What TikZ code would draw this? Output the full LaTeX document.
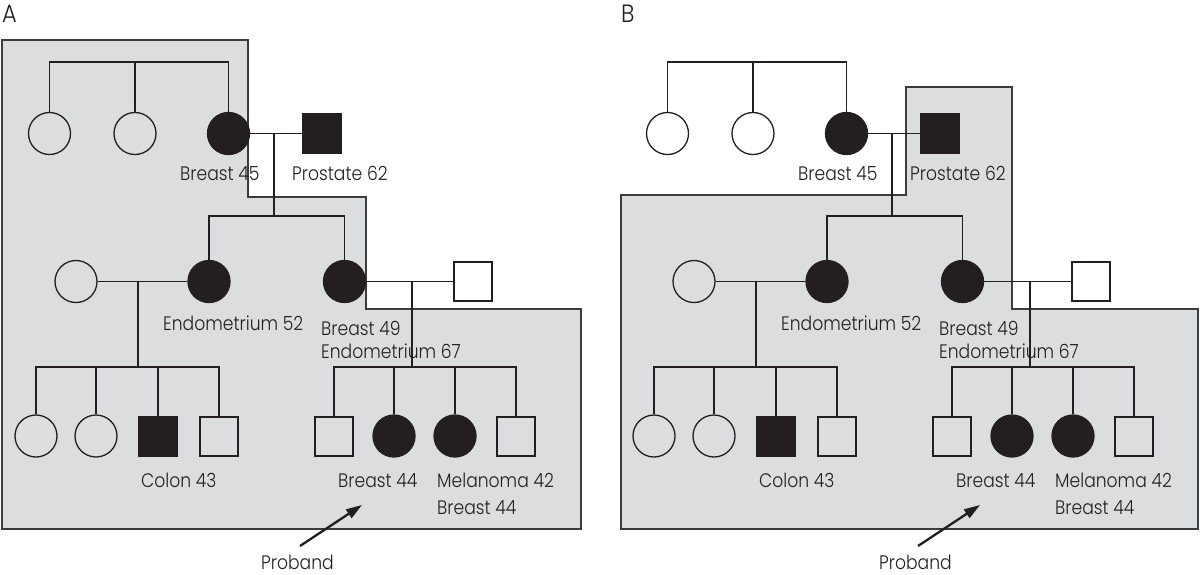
\documentclass[tikz,border=0pt]{standalone}
\usepackage{fontspec}
\setmainfont{Poppins}[UprightFont=* Light, FakeStretch=0.88]
\newfontfamily\headfont{Poppins}[UprightFont=* Light, FakeStretch=0.9]
\usetikzlibrary{arrows.meta}
\definecolor{shade}{RGB}{220,221,223}
\definecolor{edge}{RGB}{60,60,60}
\definecolor{ink}{RGB}{35,31,32}
\tikzset{
  fem/.style={circle, draw=ink, line width=1.3pt, minimum size=42pt, inner sep=0pt},
  femA/.style={fem, fill=ink},
  mal/.style={rectangle, draw=ink, line width=1.3pt, minimum width=38pt, minimum height=39pt, inner sep=0pt},
  malA/.style={mal, fill=ink},
  link/.style={draw=ink, line width=1.3pt},
  lbl/.style={anchor=base west, inner sep=0pt, font=\fontsize{19.5}{23}\selectfont, text=ink},
  panellbl/.style={anchor=base west, inner sep=0pt, font=\headfont\fontsize{25}{28}\selectfont, text=ink},
  region/.style={fill=shade, draw=edge, line width=1.5pt},
  pointer/.style={draw=ink, line width=2.3pt, -{Triangle[length=16pt,width=10pt]}},
}
\newcommand\pedtree{%
  % generation I
  \node[fem]  (c1) at (49.5,133.5) {};
  \node[fem]  (c2) at (135,133.5) {};
  \node[femA] (c3) at (228.5,133.5) {};
  \node[malA] (p1) at (322,133.5) {};
  \coordinate (s1) at (135,62);
  \draw[link] (c1.north) -- (c1.north |- s1) -- (c3.north |- s1) -- (c3.north);
  \draw[link] (c2.north) -- (s1);
  \draw[link] (c3.east) -- (p1.west);
  \coordinate (m1) at (274,133.5);
  \coordinate (s2) at (274,216);
  \draw[link] (m1) -- (s2);
  % generation II
  \node[fem]  (d1) at (76,281.5) {};
  \node[femA] (d2) at (209,281.5) {};
  \node[femA] (d3) at (344.5,281.5) {};
  \node[mal]  (d4) at (473,281.5) {};
  \draw[link] (d2.north) -- (d2.north |- s2) -- (d3.north |- s2) -- (d3.north);
  \draw[link] (d1.east) -- (d2.west);
  \draw[link] (d3.east) -- (d4.west);
  \coordinate (m2) at (138,281.5);
  \coordinate (s3) at (138,367);
  \coordinate (m3) at (412,281.5);
  \coordinate (s4) at (412,367);
  \draw[link] (m2) -- (s3);
  \draw[link] (m3) -- (s4);
  % generation III
  \node[fem]  (e1) at (36,436) {};
  \node[fem]  (e2) at (96,436) {};
  \node[malA] (e3) at (158,436.5) {};
  \node[mal]  (e4) at (219,436.5) {};
  \node[mal]  (e5) at (334,436.5) {};
  \node[femA] (e6) at (394,436) {};
  \node[femA] (e7) at (455,436) {};
  \node[mal]  (e8) at (516,436.5) {};
  \draw[link] (e1.north) -- (e1.north |- s3) -- (e4.north |- s3) -- (e4.north);
  \draw[link] (e2.north) -- (e2.north |- s3);
  \draw[link] (e3.north) -- (e3.north |- s3);
  \draw[link] (e5.north) -- (e5.north |- s4) -- (e8.north |- s4) -- (e8.north);
  \draw[link] (e6.north) -- (e6.north |- s4);
  \draw[link] (e7.north) -- (e7.north |- s4);
  % labels
  \node[lbl] (t1) at (180,180) {Breast 45};
  \node[lbl] (t2) at (292,180) {Prostate 62};
  \node[lbl] (t3) at (163,330) {Endometrium 52};
  \node[lbl] (t4) at (321,335) {Breast 49};
  \node[lbl] (t5) at (321,358) {Endometrium 67};
  \node[lbl] (t6) at (141,487) {Colon 43};
  \node[lbl] (t7) at (338,487) {Breast 44};
  \node[lbl] (t8) at (437,487) {Melanoma 42};
  \node[lbl] (t9) at (437,514) {Breast 44};
  \node[lbl] (t10) at (261,569) {Proband};
  \coordinate (as) at (300,546);
  \coordinate (ae) at (362,505);
  \draw[pointer] (as) -- (ae);
}
\begin{document}
\begin{tikzpicture}[x=1pt, y=-1pt]
  \useasboundingbox (0,0) rectangle (1200,574);
  \draw[region] (2,40) -- (248,40) -- (248,197) -- (366,197) -- (366,309) -- (581,309) -- (581,529) -- (2,529) -- cycle;
  \draw[region] (621,195) -- (906,195) -- (906,87) -- (1012,87) -- (1012,309) -- (1198,309) -- (1198,529) -- (621,529) -- cycle;
  \node[panellbl] (labA) at (2,22) {A};
  \node[panellbl] (labB) at (621,22) {B};
  \begin{scope}[name prefix=A-]
    \pedtree
  \end{scope}
  \begin{scope}[xshift=618pt, name prefix=B-]
    \pedtree
  \end{scope}
\end{tikzpicture}
\end{document}
